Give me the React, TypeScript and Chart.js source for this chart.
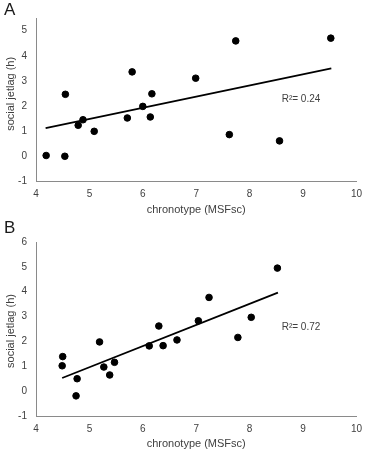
import React, { useEffect, useRef } from "react";
import { Chart, registerables } from "chart.js";

Chart.register(...registerables);

// Panel A data
const A_X = [4.19, 4.54, 4.55, 4.79, 4.88, 5.09, 5.71, 5.8, 6.0, 6.14, 6.17, 6.99, 7.62, 7.74, 8.56, 9.52];
const A_Y = [0.04, 0.01, 2.47, 1.24, 1.46, 1.0, 1.53, 3.36, 1.99, 1.57, 2.49, 3.11, 0.87, 4.59, 0.62, 4.7];
const A_TREND_X = [4.18, 9.53];
const A_TREND_Y = [1.13, 3.5];
const A_R2 = "R\u00B2= 0.24";
const A_R2_POS = [8.6, 2.26];

// Panel B data
const B_X = [4.5, 4.49, 4.77, 4.75, 5.19, 5.27, 5.38, 5.47, 6.12, 6.3, 6.38, 6.64, 7.04, 7.24, 7.78, 8.03, 8.52];
const B_Y = [1.39, 1.02, 0.5, -0.19, 1.98, 0.97, 0.65, 1.16, 1.82, 2.62, 1.83, 2.06, 2.83, 3.77, 2.16, 2.97, 4.95];
const B_TREND_X = [4.49, 8.53];
const B_TREND_Y = [0.53, 3.96];
const B_R2 = "R\u00B2= 0.72";
const B_R2_POS = [8.6, 2.59];

const X_TITLE = "chronotype (MSFsc)";
const Y_TITLE = "social jetlag (h)";
const X_MIN = 4;
const X_MAX = 10;

const FONT = "'Liberation Sans', Arial, sans-serif";
const TEXT = "#404040";
const AXIS = "#8a8a8a";

type Panel = {
  xs: number[];
  ys: number[];
  tx: number[];
  ty: number[];
  r2: string;
  r2pos: number[];
  yMax: number;
  padTop: number;
  padBottom: number;
  yTitleShift: number;
};

function ScatterPanel({ p }: { p: Panel }) {
  const ref = useRef<HTMLCanvasElement | null>(null);
  useEffect(() => {
    if (!ref.current) return;
    const labelPlugin = {
      id: "r2label",
      afterDatasetsDraw(chart: any) {
        const ctx = chart.ctx;
        const x = chart.scales.x.getPixelForValue(p.r2pos[0]);
        const y = chart.scales.y.getPixelForValue(p.r2pos[1]);
        ctx.save();
        ctx.font = `10px ${FONT}`;
        ctx.fillStyle = TEXT;
        ctx.textAlign = "left";
        ctx.textBaseline = "middle";
        ctx.fillText(p.r2, x, y);
        // y-axis title
        const ys = chart.scales.y;
        const cy = (ys.top + ys.bottom) / 2 + p.yTitleShift;
        ctx.translate(10.5, cy);
        ctx.rotate(-Math.PI / 2);
        ctx.font = `11px ${FONT}`;
        ctx.textAlign = "center";
        ctx.fillText(Y_TITLE, 0, 0);
        ctx.restore();
      },
    };
    const chart = new Chart(ref.current, {
      type: "scatter",
      data: {
        datasets: [
          {
            data: p.xs.map((x, i) => ({ x, y: p.ys[i] })),
            backgroundColor: "#000",
            borderColor: "#000",
            pointRadius: 3.3,
            pointHoverRadius: 3.3,
          },
          {
            type: "line",
            data: p.tx.map((x, i) => ({ x, y: p.ty[i] })),
            borderColor: "#000",
            borderWidth: 1.8,
            pointRadius: 0,
            fill: false,
          } as any,
        ],
      },
      options: {
        responsive: false,
        animation: false,
        events: [],
        layout: { padding: { top: p.padTop, right: 11, bottom: p.padBottom, left: 0 } },
        plugins: { legend: { display: false }, tooltip: { enabled: false } },
        scales: {
          x: {
            type: "linear",
            min: X_MIN,
            max: X_MAX,
            ticks: { stepSize: 1, color: TEXT, font: { family: FONT, size: 10 }, padding: 7 },
            grid: { display: false, drawTicks: false },
            border: { display: true, color: AXIS, width: 1 },
            title: {
              display: true,
              text: X_TITLE,
              color: TEXT,
              font: { family: FONT, size: 11 },
              padding: { top: 0, bottom: 1.4 },
            },
            afterFit: (s: any) => {
              s.height = 36;
            },
          },
          y: {
            type: "linear",
            min: -1,
            max: p.yMax,
            ticks: { stepSize: 1, color: TEXT, font: { family: FONT, size: 10 }, padding: 9 },
            afterBuildTicks: (s: any) => {
              s.ticks = s.ticks.filter((t: any) => Number.isInteger(t.value));
            },
            grid: { display: false, drawTicks: false },
            border: { display: true, color: AXIS, width: 1 },
            title: { display: false },
            afterFit: (s: any) => {
              s.width = 36;
            },
          },
        },
      },
      plugins: [labelPlugin],
    });
    return () => chart.destroy();
  }, [p]);
  return <canvas ref={ref} width={369} height={226} style={{ display: "block" }} />;
}

const PANEL_A: Panel = {
  xs: A_X, ys: A_Y, tx: A_TREND_X, ty: A_TREND_Y, r2: A_R2, r2pos: A_R2_POS,
  yMax: 5.5, padTop: 18, padBottom: 8.3, yTitleShift: -6,
};
const PANEL_B: Panel = {
  xs: B_X, ys: B_Y, tx: B_TREND_X, ty: B_TREND_Y, r2: B_R2, r2pos: B_R2_POS,
  yMax: 6, padTop: 16, padBottom: 0, yTitleShift: 2,
};

const letterStyle: React.CSSProperties = {
  position: "absolute",
  left: 4,
  fontFamily: FONT,
  fontSize: 17,
  lineHeight: "17px",
  color: "#1a1a1a",
};

export default function App() {
  return (
    <div style={{ position: "absolute", left: 0, top: 0, width: 369, height: 452, background: "#fff" }}>
      <ScatterPanel p={PANEL_A} />
      <ScatterPanel p={PANEL_B} />
      <div style={{ ...letterStyle, top: 0.6 }}>A</div>
      <div style={{ ...letterStyle, top: 218.6 }}>B</div>
    </div>
  );
}
